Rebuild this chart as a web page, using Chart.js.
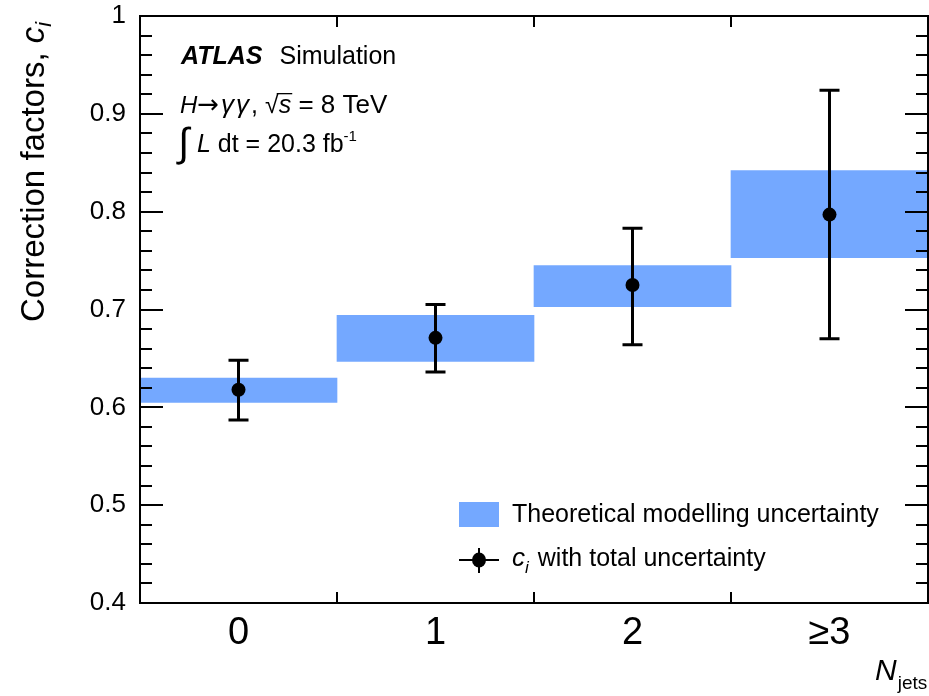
<!DOCTYPE html>
<html>
<head>
<meta charset="utf-8">
<script src="https://cdn.jsdelivr.net/npm/chart.js@4"></script>
<style>
  html, body { margin: 0; padding: 0; background: #fff; }
  canvas { display: block; }
</style>
</head>
<body>
<canvas id="grafica" width="929" height="696"></canvas>
<script>
/* Factores de correccion c_i por multiplicidad de jets, H->yy a 8 TeV */

const categorias = ['0', '1', '2', '\u22653'];

// valor central de c_i y su incertidumbre total (limites inferior / superior)
const factorC   = [0.618, 0.671, 0.725, 0.797];
const errTotInf = [0.587, 0.636, 0.664, 0.670];
const errTotSup = [0.648, 0.705, 0.783, 0.924];

// banda de incertidumbre del modelado teorico
const teoInf = [0.605, 0.647, 0.703, 0.753];
const teoSup = [0.630, 0.694, 0.745, 0.842];

const yMin = 0.4, yMax = 1.0, yPaso = 0.1, yPasoMenor = 0.02;

const AZUL = '#74a8ff';
const FUENTE = '"Liberation Sans", Arial, Helvetica, sans-serif';

/* ---------- texto con tramos de estilos distintos ---------- */
// partes = [{t, size, estilo, dy, barra, fam, esp}]
function textoRico(ctx, x, y, partes) {
  let cx = x;
  partes.forEach(p => {
    ctx.font = (p.estilo || '') + ' ' + p.size + 'px ' + (p.fam || FUENTE);
    const w = ctx.measureText(p.t).width;
    ctx.fillText(p.t, cx, y + (p.dy || 0));
    if (p.barra) {
      // raya superior de la raiz cuadrada
      ctx.fillRect(cx - 2, y - p.size * 0.8, w + 3, 1.3);
    }
    cx += w + (p.esp || 0);
  });
  return cx;
}

/* ---------- marco, marcas de los ejes, barras de error, textos ---------- */
const pluginAtlas = {
  id: 'atlas',
  afterDatasetsDraw(chart) {
    const ctx = chart.ctx;
    const ys = chart.scales.y;
    const meta = chart.getDatasetMeta(1);
    ctx.save();
    ctx.strokeStyle = '#000';
    ctx.lineWidth = 3;
    meta.data.forEach((pt, i) => {
      const x = pt.x;
      const yA = ys.getPixelForValue(errTotSup[i]);
      const yB = ys.getPixelForValue(errTotInf[i]);
      ctx.beginPath();
      ctx.moveTo(x, yA); ctx.lineTo(x, yB);
      ctx.moveTo(x - 10, yA); ctx.lineTo(x + 10, yA);
      ctx.moveTo(x - 10, yB); ctx.lineTo(x + 10, yB);
      ctx.stroke();
    });
    ctx.restore();
  },
  afterDraw(chart) {
    const ctx = chart.ctx;
    const a = chart.chartArea;
    const xs = chart.scales.x, ys = chart.scales.y;
    ctx.save();
    ctx.strokeStyle = '#000';
    ctx.fillStyle = '#000';
    ctx.lineWidth = 2;

    // marco
    ctx.strokeRect(a.left, a.top, a.right - a.left, a.bottom - a.top);

    // marcas del eje Y, mayores y menores, a ambos lados
    const n = Math.round((yMax - yMin) / yPasoMenor);
    ctx.beginPath();
    for (let k = 1; k < n; k++) {
      const v = yMin + k * yPasoMenor;
      const y = Math.round(ys.getPixelForValue(v));
      const largo = (k % 5 === 0) ? 23 : 12;
      ctx.moveTo(a.left, y); ctx.lineTo(a.left + largo, y);
      ctx.moveTo(a.right, y); ctx.lineTo(a.right - largo, y);
    }
    // marcas del eje X en los limites de cada bin
    for (let i = 0; i < categorias.length - 1; i++) {
      const x = Math.round((xs.getPixelForValue(i) + xs.getPixelForValue(i + 1)) / 2);
      ctx.moveTo(x, a.bottom); ctx.lineTo(x, a.bottom - 11);
      ctx.moveTo(x, a.top); ctx.lineTo(x, a.top + 11);
    }
    ctx.stroke();

    // titulo del eje Y (girado)
    ctx.save();
    ctx.translate(44, 322);
    ctx.rotate(-Math.PI / 2);
    ctx.textBaseline = 'alphabetic';
    textoRico(ctx, 0, 0, [
      { t: 'Correction factors, ', size: 33 },
      { t: 'c', size: 33, estilo: 'italic' },
      { t: 'i', size: 22, estilo: 'italic', dy: 7 },
    ]);
    ctx.restore();

    // titulo del eje X
    ctx.textBaseline = 'alphabetic';
    textoRico(ctx, 875, 680, [
      { t: 'N', size: 30, estilo: 'italic', esp: 1 },
      { t: 'jets', size: 19, dy: 9 },
    ]);

    // etiqueta ATLAS
    textoRico(ctx, 181, 64, [
      { t: 'ATLAS', size: 25, estilo: 'italic bold', esp: 17 },
      { t: 'Simulation', size: 25 },
    ]);
    textoRico(ctx, 180, 113, [
      { t: 'H', size: 24, estilo: 'italic' },
      { t: '\u2192', size: 26, fam: '"DejaVu Sans"', esp: 2 },
      { t: '\u03b3', size: 26, estilo: 'italic', esp: 2 },
      { t: '\u03b3', size: 26, estilo: 'italic', esp: 2 },
      { t: ', \u221a', size: 25 },
      { t: 's', size: 25, estilo: 'italic', barra: true },
      { t: ' = 8 TeV', size: 26 },
    ]);
    textoRico(ctx, 178, 152, [
      { t: '\u222b', size: 40, dy: 4, esp: 8 },
      { t: 'L', size: 25, estilo: 'italic' },
      { t: ' dt = 20.3 fb', size: 25 },
      { t: '-1', size: 15, dy: -11 },
    ]);

    // leyenda
    ctx.fillStyle = AZUL;
    ctx.fillRect(459, 502, 40, 25);
    ctx.fillStyle = '#000';
    textoRico(ctx, 512, 522, [{ t: 'Theoretical modelling uncertainty', size: 25 }]);

    ctx.lineWidth = 2;
    ctx.beginPath();
    ctx.moveTo(459, 560); ctx.lineTo(499, 560);
    ctx.moveTo(479, 548); ctx.lineTo(479, 573);
    ctx.stroke();
    ctx.beginPath();
    ctx.ellipse(479, 560, 7, 7.5, 0, 0, Math.PI * 2);
    ctx.fill();
    textoRico(ctx, 512, 566, [
      { t: 'c', size: 26, estilo: 'italic' },
      { t: 'i', size: 17, estilo: 'italic', dy: 7, esp: 9 },
      { t: 'with total uncertainty', size: 25 },
    ]);
    ctx.restore();
  },
};

new Chart(document.getElementById('grafica'), {
  type: 'bar',
  data: {
    labels: categorias,
    datasets: [
      {
        label: 'Theoretical modelling uncertainty',
        data: teoInf.map((lo, i) => [lo, teoSup[i]]),
        backgroundColor: AZUL,
        borderWidth: 0,
        barPercentage: 1,
        categoryPercentage: 1,
        order: 2,
      },
      {
        type: 'line',
        label: 'c_i with total uncertainty',
        data: factorC,
        showLine: false,
        pointStyle: 'circle',
        pointRadius: 7,
        pointBackgroundColor: '#000',
        pointBorderColor: '#000',
        pointBorderWidth: 0,
        order: 1,
      },
    ],
  },
  options: {
    responsive: false,
    devicePixelRatio: 1,
    animation: false,
    // sin autoPadding: el radio de los puntos no debe encoger el area del grafico
    layout: { autoPadding: false, padding: { top: 16, right: 1, left: 0, bottom: 0 } },
    plugins: { legend: { display: false }, tooltip: { enabled: false } },
    scales: {
      x: {
        offset: true,
        grid: { display: false },
        border: { display: false },
        ticks: { color: '#000', font: { family: FUENTE, size: 38 }, padding: 0 },
        afterFit: s => { s.height = 93; s.paddingLeft = 0; s.paddingRight = 0; },
      },
      y: {
        min: yMin,
        max: yMax,
        grid: { display: false },
        border: { display: false },
        ticks: {
          stepSize: yPaso,
          color: '#000',
          font: { family: FUENTE, size: 26 },
          padding: 6,
          callback: v => String(Number(v.toFixed(1))),
        },
        afterFit: s => { s.width = 140; s.paddingTop = 0; s.paddingBottom = 0; },
      },
    },
  },
  plugins: [pluginAtlas],
});
</script>
</body>
</html>
